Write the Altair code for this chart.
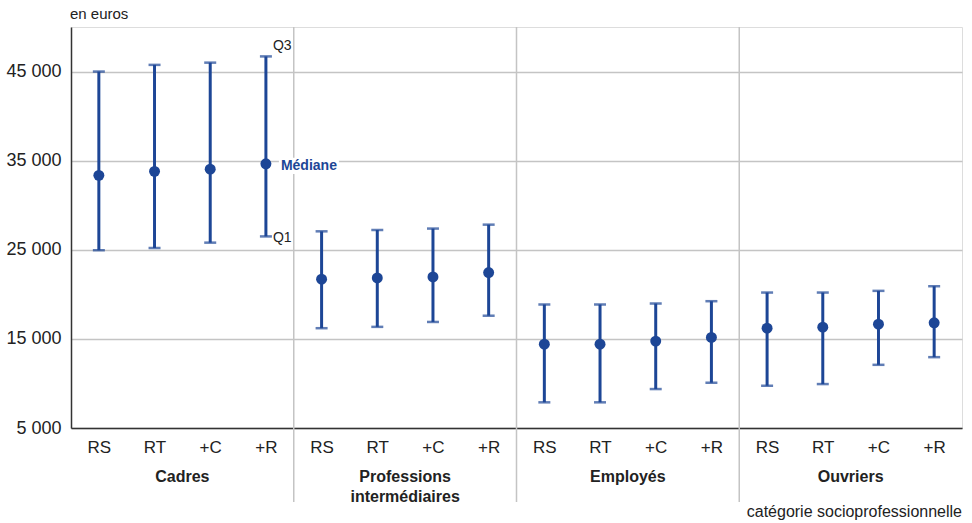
import altair as alt
import pandas as pd

groups = ["Cadres", "Professions\nintermédiaires", "Employés", "Ouvriers"]
subs = ["RS", "RT", "+C", "+R"]
q1 = [24950, 25200, 25800, 26500,
      16200, 16350, 16900, 17600,
      7880, 7880, 9370, 10080,
      9740, 9930, 12090, 12950]
median = [33350, 33800, 34050, 34650,
          21700, 21840, 21950, 22440,
          14400, 14400, 14750, 15160,
          16200, 16320, 16650, 16800]
q3 = [45000, 45750, 46000, 46700,
      27070, 27220, 27380, 27820,
      18860, 18860, 18970, 19230,
      20200, 20200, 20390, 20910]
y_ticks = [5000, 15000, 25000, 35000, 45000]

BLUE = "#1d4696"
GRID = "#c4c4c4"
TXT = "#222222"
FONT = "Liberation Sans, Arial, sans-serif"

rows = []
for gi, g in enumerate(groups):
    for si, s in enumerate(subs):
        i = gi * 4 + si
        rows.append({"idx": i, "group": g, "sub": s,
                     "q1": q1[i], "med": median[i], "q3": q3[i]})
df = pd.DataFrame(rows)

label_map = "{" + ",".join(f"'{i}':'{s}'" for i, s in enumerate(df["sub"])) + "}"

xscale = alt.Scale(domain=[-0.5, 15.5], nice=False, zero=False)
yscale = alt.Scale(domain=[5000, 50000], nice=False, zero=False)

x_enc = alt.X("idx:Q", scale=xscale,
              axis=alt.Axis(values=list(range(16)), labelExpr=label_map + "[datum.value+'']",
                            grid=False, ticks=False, domain=True, domainColor="#333333",
                            domainWidth=1.5, labelFontSize=17, labelColor=TXT, labelFont=FONT,
                            labelPadding=11, title=None))
y_enc = alt.Y("q3:Q", scale=yscale,
              axis=alt.Axis(values=y_ticks, labelExpr="replace(format(datum.value, ','), ',', ' ')",
                            grid=True, gridColor=GRID, gridWidth=1.5, ticks=False,
                            domainColor="#333333", domainWidth=1.5, labelFontSize=18,
                            labelColor=TXT, labelFont=FONT, labelPadding=10, title=None))

base = alt.Chart(df)

bars = base.mark_rule(color=BLUE, strokeWidth=3).encode(x=x_enc, y=y_enc, y2="q1:Q")
cap_top = base.mark_tick(color=BLUE, thickness=2.5, size=12, orient="horizontal").encode(
    x=alt.X("idx:Q", scale=xscale), y=alt.Y("q3:Q", scale=yscale))
cap_bot = base.mark_tick(color=BLUE, thickness=2.5, size=12, orient="horizontal").encode(
    x=alt.X("idx:Q", scale=xscale), y=alt.Y("q1:Q", scale=yscale))
pts = base.mark_circle(color=BLUE, opacity=1, size=120).encode(
    x=alt.X("idx:Q", scale=xscale), y=alt.Y("med:Q", scale=yscale))

# group separators
sep_df = pd.DataFrame({"pos": [3.5, 7.5, 11.5]})
seps = alt.Chart(sep_df).mark_rule(color=GRID, strokeWidth=1.5).encode(
    x=alt.X("pos:Q", scale=xscale), y=alt.value(0), y2=alt.value(475))

# group labels
grp_df = pd.DataFrame({"pos": [1.5, 5.5, 9.5, 13.5], "label": groups})
grp = alt.Chart(grp_df).mark_text(fontWeight="bold", fontSize=16, font=FONT, color=TXT,
                                  baseline="top", lineBreak="\n", lineHeight=20).encode(
    x=alt.X("pos:Q", scale=xscale), y=alt.value(442), text="label:N")

# annotations on the Cadres +R bar
ann = df[df["idx"] == 3]
q3_lab = alt.Chart(ann).mark_text(text="Q3", align="left", baseline="middle", dx=7, dy=-10,
                                  fontSize=14, font=FONT, color=TXT).encode(
    x=alt.X("idx:Q", scale=xscale), y=alt.Y("q3:Q", scale=yscale))
q1_lab = alt.Chart(ann).mark_text(text="Q1", align="left", baseline="middle", dx=7, dy=2,
                                  fontSize=14, font=FONT, color=TXT).encode(
    x=alt.X("idx:Q", scale=xscale), y=alt.Y("q1:Q", scale=yscale))
med_bg = alt.Chart(ann).mark_point(shape="M-1,-0.27H1V0.27H-1Z", filled=True, fill="white",
                                   opacity=1, strokeWidth=0, size=3600, xOffset=43, yOffset=2).encode(
    x=alt.X("idx:Q", scale=xscale), y=alt.Y("med:Q", scale=yscale))
med_lab = alt.Chart(ann).mark_text(text="Médiane", align="left", baseline="middle", dx=15, dy=2,
                                   fontSize=14, fontWeight="bold", font=FONT, color=BLUE).encode(
    x=alt.X("idx:Q", scale=xscale), y=alt.Y("med:Q", scale=yscale))

unit_lab = alt.Chart(pd.DataFrame({"t": ["en euros"]})).mark_text(
    align="left", baseline="middle", fontSize=15, font=FONT, color=TXT).encode(
    x=alt.value(-1), y=alt.value(-13), text="t:N")
cat_lab = alt.Chart(pd.DataFrame({"t": ["catégorie socioprofessionnelle"]})).mark_text(
    align="right", baseline="middle", fontSize=16, font=FONT, color=TXT).encode(
    x=alt.value(891), y=alt.value(485), text="t:N")

chart = alt.layer(bars, seps, med_bg, med_lab, cap_top, cap_bot, pts, grp,
                  q3_lab, q1_lab, unit_lab, cat_lab).properties(
    width=891, height=401,
    autosize=alt.AutoSizeParams(type="none"),
    padding={"left": 71, "top": 27, "right": 10, "bottom": 95},
).configure_view(stroke=None).configure(background="white")

chart.save("out.html", embed_options={"renderer": "svg", "actions": False})
